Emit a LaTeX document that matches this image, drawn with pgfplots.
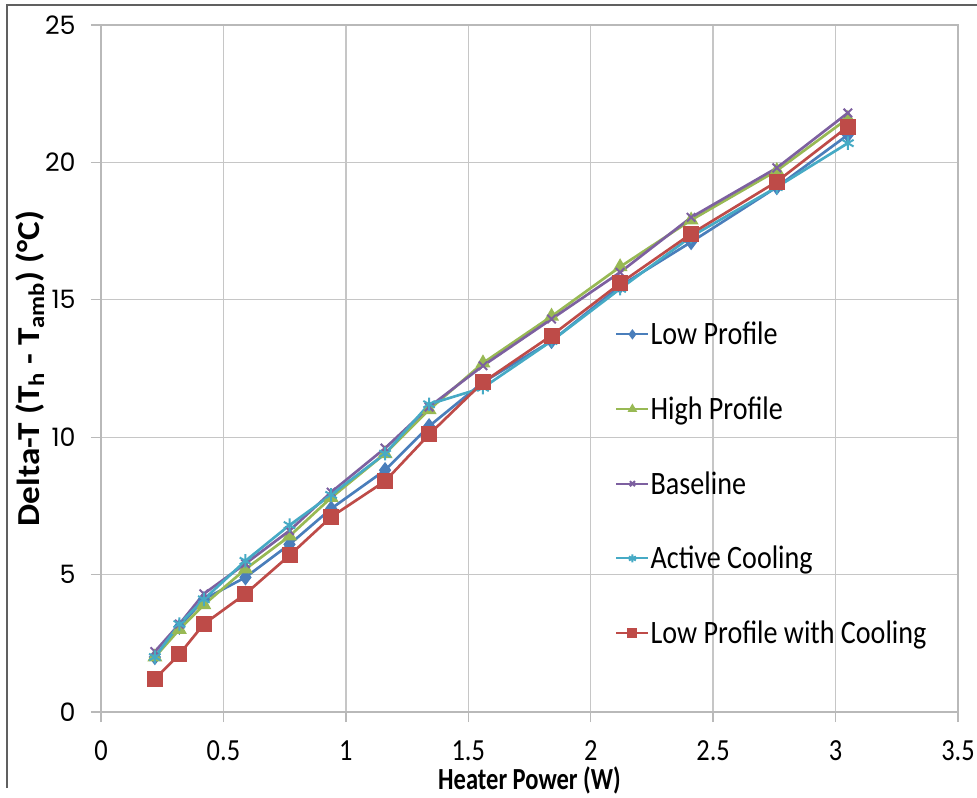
\documentclass[border=0pt]{standalone}
\usepackage{fontspec}
\setmainfont{Carlito}[FakeStretch=0.86]
\newfontfamily\ylabfont{Carlito}[FakeStretch=1.1]
\newfontfamily\xlabfont{Carlito}[FakeStretch=0.8]
\newfontfamily\yfont{Poppins}
\usepackage{pgfplots}
\pgfplotsset{compat=1.18}

\definecolor{cLP}{HTML}{4A7EBB}
\definecolor{cHP}{HTML}{98B954}
\definecolor{cBL}{HTML}{7D60A0}
\definecolor{cAC}{HTML}{46AAC5}
\definecolor{cLPC}{HTML}{BE4B48}

\pgfplotstableread{
x     LP    HP    BL    AC    LPC
0.22  2.0   2.0   2.2   2.0   1.2
0.32  3.1   3.0   3.2   3.2   2.1
0.42  4.1   3.9   4.3   4.1   3.2
0.59  4.9   5.2   5.4   5.5   4.3
0.77  6.1   6.4   6.6   6.8   5.7
0.94  7.4   7.8   8.0   7.9   7.1
1.16  8.8   9.4   9.6   9.4   8.4
1.34  10.4  11.0  11.1  11.2  10.1
1.56  12.0  12.7  12.6  11.8  12.0
1.84  13.5  14.4  14.3  13.5  13.7
2.12  15.5  16.2  16.0  15.4  15.6
2.41  17.1  17.9  18.0  17.3  17.4
2.76  19.1  19.7  19.8  19.1  19.3
3.05  21.0  21.6  21.8  20.7  21.3
}\datatable

\begin{document}
\begin{tikzpicture}
\begin{axis}[
  scale only axis,
  width=642.75pt, height=515.25pt,
  xmin=0, xmax=3.5, ymin=0, ymax=25,
  xtick={0,0.5,...,3.5}, ytick={0,5,...,25},
  /pgf/number format/assume math mode=true,
  xtick pos=lower, ytick pos=left,
  tick align=outside, major tick length=7.5pt,
  tick style={draw=gray!55, line width=1pt},
  axis line style={draw=gray!55, line width=1pt},
  grid=major,
  major grid style={draw=gray!45, line width=1pt},
  xticklabel style={font=\fontsize{23}{26}\selectfont, inner sep=0pt, yshift=-14pt},
  yticklabel style={font=\yfont\fontsize{19}{22}\selectfont, xshift=-8pt},
  xlabel={\textbf{Heater Power (W)}},
  ylabel={\textbf{Delta-T (T\textsubscript{h} - T\textsubscript{amb}) (°C)}},
  x label style={font=\xlabfont\fontsize{23}{26}\selectfont, inner sep=0pt, at={(axis description cs:0.5,-0.1)}, anchor=center},
  y label style={font=\ylabfont\fontsize{24}{27}\selectfont, at={(axis description cs:-0.083,0.5)}, anchor=center},
  every axis plot/.append style={line width=2pt},
  legend cell align=left,
  legend style={draw=none, fill=none, inner sep=0pt,
    at={(axis cs:2.1,14.25)}, anchor=north west,
    font=\fontsize{24.5}{27}\selectfont, row sep=35.5pt,
    nodes={inner sep=1pt}},
  legend image code/.code={\draw[mark repeat=2,mark phase=2,line width=1.5pt,
    /tikz/every mark/.append style={scale=0.6}]
    plot coordinates {(0cm,0cm) (0.42cm,0cm) (0.84cm,0cm)};},
]
\addplot[color=cLP, mark=diamond*, mark size=4.5pt] table[x=x, y=LP] {\datatable};
\addlegendentry{Low Profile}
\addplot[color=cHP, mark=triangle*, mark size=4.5pt] table[x=x, y=HP] {\datatable};
\addlegendentry{High Profile}
\addplot[color=cBL, mark=x, mark size=4.5pt, mark options={line width=1.5pt}] table[x=x, y=BL] {\datatable};
\addlegendentry{Baseline}
\addplot[color=cAC, mark=asterisk, mark size=5pt, mark options={line width=1.5pt}] table[x=x, y=AC] {\datatable};
\addlegendentry{Active Cooling}
\addplot[color=cLPC, mark=square*, mark size=5pt] table[x=x, y=LPC] {\datatable};
\addlegendentry{Low Profile with Cooling}
\end{axis}
\draw[gray!75!black, line width=1.2pt] (-70.5pt,-57pt) -- (-70.5pt,530.25pt) -- (657pt,530.25pt);
\pgfresetboundingbox
\path[use as bounding box] (-75.75pt,-63.75pt) rectangle (657pt,534pt);
\end{tikzpicture}
\end{document}
